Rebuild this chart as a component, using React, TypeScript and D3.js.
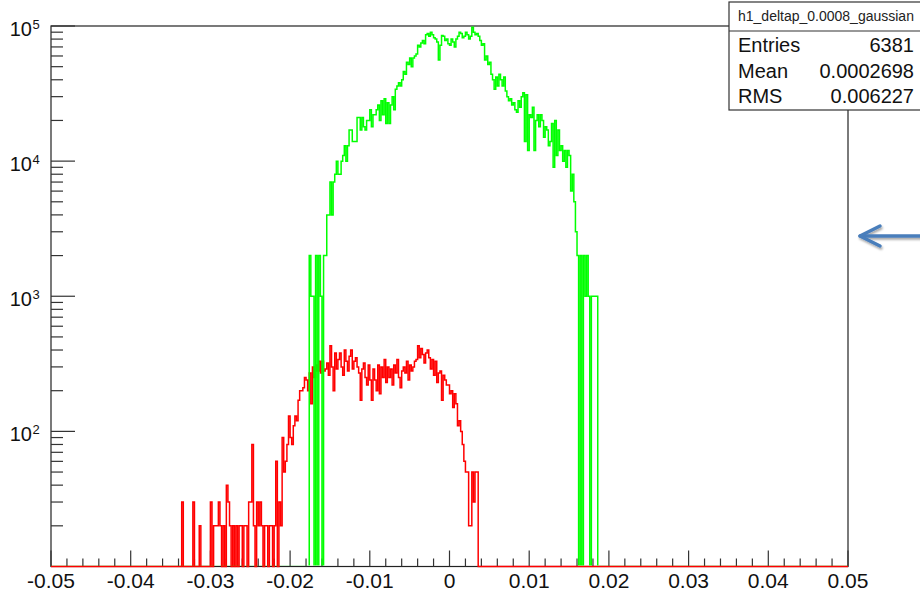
import * as d3 from "d3";

// histogram binning (500 bins from -0.05 to 0.05)
const xMin = -0.05;
const xMax = 0.05;
const binWidth = 0.0002;
const yMin = 10;
const yMax = 100000;

const xTickValues = [-0.05, -0.04, -0.03, -0.02, -0.01, 0, 0.01, 0.02, 0.03, 0.04, 0.05];
const xTickLabels = ["-0.05", "-0.04", "-0.03", "-0.02", "-0.01", "0", "0.01", "0.02", "0.03", "0.04", "0.05"];
const yDecades = [100, 1000, 10000, 100000];
const yExponents = ["2", "3", "4", "5"];

// green histogram: bin contents starting at the bin with lower edge -0.0176
const greenStart = -0.0176;
const greenValues = [
  2000, 1000, 1000, 0, 2000, 0, 2000, 1000, 0, 2000, 2000,
  4000, 4000, 7000, 4000, 7000, 8000, 10000, 8000, 8000, 10000,
  11000, 13000, 10000, 13000, 17000, 17000, 14000, 14000, 14000, 21000,
  21000, 17000, 21000, 18000, 17000, 20000, 20000, 24000, 18000, 22000,
  22000, 24000, 26000, 20000, 28000, 22000, 29000, 19000, 27000, 19000,
  26000, 30000, 24000, 34000, 36000, 38000, 36000, 40000, 46000, 44000,
  54000, 52000, 58000, 50000, 58000, 60000, 62000, 72000, 70000, 75000,
  78000, 74000, 86000, 88000, 84000, 90000, 86000, 82000, 80000, 76000,
  56000, 72000, 85000, 84000, 78000, 80000, 74000, 72000, 80000, 76000,
  70000, 80000, 84000, 90000, 88000, 82000, 84000, 90000, 86000, 80000,
  84000, 98000, 90000, 86000, 88000, 84000, 78000, 72000, 74000, 56000,
  60000, 52000, 54000, 44000, 40000, 34000, 42000, 36000, 44000, 40000,
  36000, 42000, 33000, 30000, 28000, 29000, 26000, 27000, 24000, 23000,
  28000, 25000, 30000, 32000, 14000, 31000, 12000, 22000, 21000, 25000,
  12000, 20000, 22000, 18000, 22000, 20000, 15000, 18000, 17000, 13000,
  14000, 19000, 9000, 20000, 11000, 17000, 12000, 13000, 10000, 12000,
  9000, 12000, 11000, 6000, 8000, 5000, 3000, 2000, 0, 2000,
  0, 2000, 1000, 2000, 1000, 0, 1000, 1000, 1000, 1000,
];

// red histogram: bin contents starting at the bin with lower edge -0.0336
const redStart = -0.0336;
const redValues = [
  30, 0, 0, 0, 0, 0, 0, 30, 0, 0,
  0, 20, 0, 0, 0, 0, 0, 0, 30, 0,
  20, 20, 20, 30, 20, 0, 20, 0, 40, 30,
  20, 0, 20, 0, 20, 0, 20, 20, 0, 20,
  20, 0, 30, 30, 80, 20, 0, 30, 20, 30,
  20, 0, 20, 20, 0, 20, 20, 0, 20, 60,
  0, 30, 20, 90, 50, 60, 80, 130, 90, 80,
  110, 130, 120, 170, 200, 200, 210, 250, 240, 200,
  270, 160, 300, 250, 310, 280, 330, 270, 330, 280,
  290, 320, 260, 430, 300, 200, 380, 290, 340, 380,
  300, 260, 400, 330, 280, 360, 400, 290, 330, 350,
  300, 270, 170, 290, 320, 250, 220, 310, 240, 170,
  290, 240, 200, 310, 190, 300, 250, 340, 230, 300,
  250, 290, 220, 310, 270, 340, 250, 210, 280, 300,
  270, 330, 240, 310, 280, 300, 330, 340, 430, 350,
  410, 370, 320, 380, 400, 350, 290, 340, 260, 330,
  230, 270, 280, 170, 260, 240, 220, 220, 190, 200,
  150, 190, 160, 110, 120, 100, 80, 60, 50, 50,
  20, 20, 50, 30, 50, 50,
];

const statsTitle = "h1_deltap_0.0008_gaussian";
const statsNames = ["Entries", "Mean", "RMS"];
const statsValues = ["6381", "0.0002698", "0.006227"];

const W = 920;
const H = 595;
const margin = { top: 26, right: 72, bottom: 28.5, left: 51 };

const x = d3.scaleLinear().domain([xMin, xMax]).range([margin.left, W - margin.right]);
const y = d3.scaleLog().domain([yMin, yMax]).range([H - margin.bottom, margin.top]);
const yPos = (v: number) => y(Math.max(v, yMin));

function histPath(start: number, values: number[]) {
  const nBins = Math.round((xMax - xMin) / binWidth);
  const offset = Math.round((start - xMin) / binWidth);
  let d = "";
  d3.range(nBins).forEach((i) => {
    const j = i - offset;
    const v = j >= 0 && j < values.length ? values[j] : 0;
    const x0 = x(xMin + i * binWidth);
    const x1 = x(xMin + (i + 1) * binWidth);
    const yy = yPos(v);
    d += `${i === 0 ? "M" : "L"}${x0.toFixed(2)},${yy.toFixed(2)}L${x1.toFixed(2)},${yy.toFixed(2)}`;
  });
  return d;
}

export default function App() {
  const x0 = x(xMin);
  const x1 = x(xMax);
  const yBottom = y(yMin);
  const yTop = y(yMax);

  // minor x ticks every 0.002
  const xMinor = d3.range(51).map((i) => xMin + i * 0.002);
  // y ticks 2..9 per decade
  const yMinor: number[] = [];
  [10, 100, 1000, 10000].forEach((dec) => {
    d3.range(2, 10).forEach((k) => yMinor.push(k * dec));
  });

  const boxX = 729;
  const boxY = 2;
  const boxBottom = 110;

  return (
    <svg
      width={W}
      height={H}
      style={{ position: "absolute", left: 0, top: 0, background: "#fff" }}
      fontFamily="'Liberation Sans', Arial, Helvetica, sans-serif"
    >
      <defs>
        <clipPath id="greenClip">
          <rect x={0} y={0} width={W} height={yBottom - 1} />
        </clipPath>
        <filter id="arrowShadow" x="-20%" y="-50%" width="140%" height="200%">
          <feDropShadow dx="1" dy="2" stdDeviation="1.2" floodColor="#000" floodOpacity="0.35" />
        </filter>
      </defs>

      {/* frame */}
      <rect x={x0} y={yTop} width={x1 - x0} height={yBottom - yTop} fill="#fff" stroke="#222" strokeWidth={1.2} />

      {/* x ticks */}
      {xMinor.map((v, i) => (
        <line
          key={"xt" + i}
          x1={x(v)}
          x2={x(v)}
          y1={yBottom}
          y2={yBottom - (i % 5 === 0 ? 16 : 8)}
          stroke="#333"
          strokeWidth={1.2}
        />
      ))}
      {/* y ticks */}
      {yMinor.map((v, i) => (
        <line key={"ym" + i} x1={x0} x2={x0 + 12} y1={y(v)} y2={y(v)} stroke="#333" strokeWidth={1.2} />
      ))}
      {yDecades.map((v, i) => (
        <line key={"yM" + i} x1={x0} x2={x0 + 24} y1={y(v)} y2={y(v)} stroke="#333" strokeWidth={1.2} />
      ))}

      {/* histograms */}
      <path d={histPath(redStart, redValues)} fill="none" stroke="#ff0000" strokeWidth={1.5} />
      <path
        d={histPath(greenStart, greenValues)}
        fill="none"
        stroke="#00ff00"
        strokeWidth={1.5}
        clipPath="url(#greenClip)"
      />

      {/* x labels */}
      {xTickValues.map((v, i) => (
        <text key={"xl" + i} x={x(v)} y={588} textAnchor="middle" fontSize={21} fill="#111">
          {xTickLabels[i]}
        </text>
      ))}
      {/* y labels */}
      {yDecades.map((v, i) => (
        <text key={"yl" + i} x={32} y={y(v) + 10} textAnchor="end" fontSize={20} fill="#111">
          10
        </text>
      ))}
      {yDecades.map((v, i) => (
        <text key={"ye" + i} x={32.5} y={y(v) + 2.5} fontSize={13} fill="#111">
          {yExponents[i]}
        </text>
      ))}

      {/* stats box */}
      <rect x={boxX} y={boxY} width={W - boxX + 10} height={boxBottom - boxY} fill="#fff" stroke="#333" strokeWidth={1.2} />
      <line x1={boxX} x2={W} y1={31} y2={31} stroke="#333" strokeWidth={1.2} />
      <text x={738} y={21} fontSize={14} fill="#222">
        {statsTitle}
      </text>
      {statsNames.map((n, i) => (
        <g key={"st" + i}>
          <text x={738} y={52 + i * 25.5} fontSize={20} fill="#111">
            {n}
          </text>
          <text x={914} y={52 + i * 25.5} fontSize={20} fill="#111" textAnchor="end">
            {statsValues[i]}
          </text>
        </g>
      ))}

      {/* annotation arrow */}
      <g filter="url(#arrowShadow)" stroke="#4a7ebb" strokeWidth={3.5} strokeLinecap="round" strokeLinejoin="round" fill="none">
        <path d="M922,236 L860,236" />
        <path d="M880,226 L860,236 L880,246" />
      </g>
    </svg>
  );
}
